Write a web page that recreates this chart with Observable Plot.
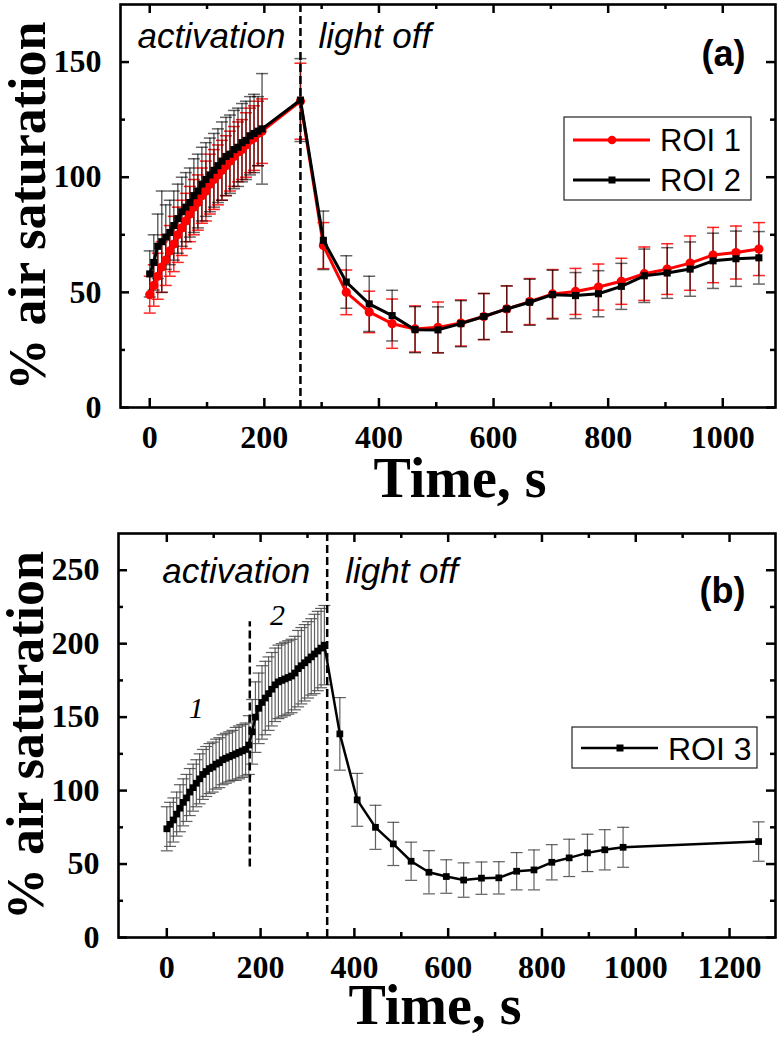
<!DOCTYPE html>
<html><head><meta charset="utf-8">
<script src="https://cdn.jsdelivr.net/npm/d3@7"></script>
<script src="https://cdn.jsdelivr.net/npm/@observablehq/plot@0.6"></script>
<style>
body{margin:0;background:#fff;}
#wrap{position:relative;width:780px;height:1039px;overflow:hidden;}
.panel{position:absolute;left:0;}
.leg{position:absolute;left:0;top:0;}
</style></head><body><div id="wrap"></div>
<script>
// ---------- Panel (a) data ----------
const timeA_act = [0,7,14,21,28,35,42,49,56,63,70,77,84,91,98,105,112,119,126,133,140,147,154,161,168,175,182,189,196];
const timeA_off = [263,303,343,383,423,463,503,543,583,623,663,703,743,783,823,863,903,943,983,1023,1063];
const roi1_act = [49,53,57,61,64,68,71,75,78,81,84,87,89,92,94,97,99,101,103,105,107,109,111,112,114,116,117,119,120];
const roi1_act_err = [8,9,10,11,11,11,12,12,12,12,12,12,12,12,13,13,13,13,13,13,13,13,13,13,14,14,14,14,14];
const roi1_off = [133,70.3,50,41.5,36.4,34.1,34.8,36.7,39.5,42.8,46,49.3,50.4,52.3,54.8,58.1,60.1,62.7,66.2,67.3,68.8];
const roi1_off_err = [16.5,10,9.7,9,10.7,10,11,10,10,10,10,10.6,10,10,10,11.6,11,11.8,12,11.5,11.5];
const roi2_act = [58,63,70,72,74,76,79,82,85,87,89,92,94,97,99,101,103,105,107,109,110,112,113,115,116,118,119,120,121];
const roi2_act_err = [10,12,14,22,14,14,15,15,15,15,15,16,16,16,16,16,16,16,17,17,17,17,17,17,17,17,17,15,24];
const roi2_off = [133.5,72.6,54.5,45,39.9,33.8,33.7,36.4,39.5,42.8,45.7,49,48.6,49.4,52.6,57.2,58.4,60.1,63.7,64.6,65];
const roi2_off_err = [18,12.7,11.4,12,11,10,10,10,10,10,10,10.6,10,10,10,11.6,11,11.8,12,12,11.4];
const lightOffA = 263;

// ---------- Panel (b) data ----------
const timeB_act = [0,7,14,21,28,35,42,49,56,63,70,77,84,91,98,105,112,119,126,133,140,147,154,161,168,175,182,189,196,203,210,217,224,231,238,245,252,259,266,273,280,287,294,301,308,315,322,329,336];
const roi3_act = [74,77,80,84,88,92,95,99,102,105,108,111,113,115,116,118,119,121,122,123,124,125,126,127,128,131,140,150,156,160,163,166,169,172,174,175,176,177,178,180,183,185,187,189,191,193,195,197,199];
const roi3_act_err = [15,15,15,15,16,16,16,16,16,16,17,17,17,17,17,17,17,17,17,17,17,18,18,18,18,20,22,24,24,25,25,25,25,25,25,25,25,25,25,25,26,26,26,26,26,27,27,27,27];
const timeB_off = [369,406,445,483,521,559,596,633,671,708,746,783,821,858,897,934,973,1262];
const roi3_off = [138.6,93.7,75,63.7,51.9,44.4,41.5,39.1,40.4,40.6,45.1,46,51.2,54.2,57.6,59.7,61.4,65.3];
const roi3_off_err = [24.7,18,15,14.7,13,14.7,11.4,11.7,11,11,12.7,13.6,12,12.7,12.7,13.7,13.6,13.4];
const lightOffB = 342;
const phaseSplitB = 177;
const phaseSplitB_range = [48, 215];

// ---------- ticks ----------
const xMajorA = [0,200,400,600,800,1000], xMinorA = [100,300,500,700,900];
const yMajorA = [0,50,100,150], yMinorA = [25,75,125];
const xMajorB = [0,200,400,600,800,1000,1200], xMinorB = [100,300,500,700,900,1100];
const yMajorB = [0,50,100,150,200,250], yMinorB = [25,75,125,175,225];

const rows = (ts, vs, es) => ts.map((t,i)=>({t, v: vs[i], e: es[i]}));
const roi1 = rows(timeA_act.concat(timeA_off), roi1_act.concat(roi1_off), roi1_act_err.concat(roi1_off_err));
const roi2 = rows(timeA_act.concat(timeA_off), roi2_act.concat(roi2_off), roi2_act_err.concat(roi2_off_err));
const roi3 = rows(timeB_act.concat(timeB_off), roi3_act.concat(roi3_off), roi3_act_err.concat(roi3_off_err));

const cap = {draw(ctx){ ctx.moveTo(-6,0); ctx.lineTo(6,0); }};
const SERIF = "'Liberation Serif','Times New Roman',serif";
const SANS = "'Liberation Sans',Arial,sans-serif";
const fmt = d => String(d);

function frameMarks(pw, ph, xM, xm, yM, ym) {
  const L = 9, l = 5, sw = 2.5;
  return [
    Plot.tickX(xM, {x: d=>d, insetTop: ph-L, strokeWidth: sw}),
    Plot.tickX(xM, {x: d=>d, insetBottom: ph-L, strokeWidth: sw}),
    Plot.tickX(xm, {x: d=>d, insetTop: ph-l, strokeWidth: sw}),
    Plot.tickX(xm, {x: d=>d, insetBottom: ph-l, strokeWidth: sw}),
    Plot.tickY(yM, {y: d=>d, insetRight: pw-L, strokeWidth: sw}),
    Plot.tickY(yM, {y: d=>d, insetLeft: pw-L, strokeWidth: sw}),
    Plot.tickY(ym, {y: d=>d, insetRight: pw-l, strokeWidth: sw}),
    Plot.tickY(ym, {y: d=>d, insetLeft: pw-l, strokeWidth: sw}),
    Plot.frame({strokeWidth: 2.6, stroke: "black"})
  ];
}
function errMarks(data, color, op, sw) {
  return [
    Plot.ruleX(data, {x: "t", y1: d=>d.v-d.e, y2: d=>d.v+d.e, stroke: color, strokeOpacity: op, strokeWidth: sw}),
    Plot.dot(data, {x: "t", y: d=>d.v+d.e, symbol: cap, fill: "none", stroke: color, strokeOpacity: op, strokeWidth: sw}),
    Plot.dot(data, {x: "t", y: d=>d.v-d.e, symbol: cap, fill: "none", stroke: color, strokeOpacity: op, strokeWidth: sw})
  ];
}
function axesMarks(xM, yM, ytitle, xtitle, xdx, xdy) {
  return [
    Plot.axisX(xM, {tickSize: 0, tickPadding: 18, fontSize: 32, fontFamily: SERIF, fontWeight: "bold", label: null, tickFormat: fmt}),
    Plot.axisY(yM, {tickSize: 0, tickPadding: 19, fontSize: 32, fontFamily: SERIF, fontWeight: "bold", label: null, tickFormat: fmt}),
    Plot.text([ytitle], {frameAnchor: "left", dx: -92, rotate: -90, textAnchor: "middle", lineAnchor: "middle", fontSize: 52, fontFamily: SERIF, fontWeight: "bold"}),
    Plot.text([xtitle], {frameAnchor: "bottom", dy: xdy, dx: xdx, textAnchor: "middle", lineAnchor: "middle", fontSize: 56, fontFamily: SERIF, fontWeight: "bold"})
  ];
}
function phaseLabels(t, dy, dxL, dxR) {
  return [
    Plot.text(["activation"], {x: [t], frameAnchor: "top", dy, dx: dxL, textAnchor: "end", lineAnchor: "middle", fontSize: 35, fontStyle: "italic", fontFamily: SANS}),
    Plot.text(["light off"], {x: [t], frameAnchor: "top", dy, dx: dxR, textAnchor: "start", lineAnchor: "middle", fontSize: 35, fontStyle: "italic", fontFamily: SANS})
  ];
}

const wrap = document.getElementById("wrap");

// ---------- Panel (a) ----------
{
  const H = 505, mt = 4, mb = 98, ml = 120, mr = 5;
  const pw = 780-ml-mr, ph = H-mt-mb;
  const p = Plot.plot({
    width: 780, height: H, marginTop: mt, marginBottom: mb, marginLeft: ml, marginRight: mr,
    style: {fontFamily: SANS, background: "transparent", overflow: "visible"},
    x: {domain: [-51, 1092], axis: null},
    y: {domain: [0, 175], axis: null},
    marks: [
      ...errMarks(roi1, "#ff0000", 0.85, 1.5),
      ...errMarks(roi2, "#000000", 0.6, 1.5),
      Plot.ruleX([lightOffA], {strokeDasharray: "8,4", strokeWidth: 2.5}),
      Plot.line(roi1, {x: "t", y: "v", stroke: "#ff0000", strokeWidth: 3}),
      Plot.dot(roi1, {x: "t", y: "v", r: 4.6, fill: "#ff0000"}),
      Plot.line(roi2, {x: "t", y: "v", stroke: "black", strokeWidth: 3}),
      Plot.dot(roi2, {x: "t", y: "v", symbol: "square", r: 4, fill: "black"}),
      ...phaseLabels(lightOffA, 32, -15, 18),
      Plot.text(["(a)"], {frameAnchor: "top-right", dx: -52, dy: 50, textAnchor: "middle", lineAnchor: "middle", fontSize: 36, fontWeight: "bold", fontFamily: SANS}),
      ...frameMarks(pw, ph, xMajorA, xMinorA, yMajorA, yMinorA),
      ...axesMarks(xMajorA, yMajorA, "% air saturation", "Time, s", 12, 72)
    ]
  });
  p.classList.add("panel"); p.style.top = "0px";
  wrap.appendChild(p);
}

// ---------- Panel (b) ----------
{
  const top = 505;
  const H = 534, mt = 28, mb = 102, ml = 118, mr = 5;
  const pw = 780-ml-mr, ph = H-mt-mb;
  const p = Plot.plot({
    width: 780, height: H, marginTop: mt, marginBottom: mb, marginLeft: ml, marginRight: mr,
    style: {fontFamily: SANS, background: "transparent", overflow: "visible"},
    x: {domain: [-103, 1298], axis: null},
    y: {domain: [0, 275], axis: null},
    marks: [
      ...errMarks(roi3, "#444444", 0.85, 1.2),
      Plot.ruleX([lightOffB], {strokeDasharray: "8,4", strokeWidth: 2.5}),
      Plot.ruleX([phaseSplitB], {y1: phaseSplitB_range[0], y2: phaseSplitB_range[1], strokeDasharray: "8,4", strokeWidth: 2.5}),
      Plot.line(roi3, {x: "t", y: "v", stroke: "black", strokeWidth: 2.5}),
      Plot.dot(roi3, {x: "t", y: "v", symbol: "square", r: 3.8, fill: "black"}),
      ...phaseLabels(lightOffB, 38, -17, 18),
      Plot.text(["1"], {x: [63], y: [156], fontSize: 30, fontStyle: "italic", fontFamily: SERIF}),
      Plot.text(["2"], {x: [236], y: [219], fontSize: 30, fontStyle: "italic", fontFamily: SERIF}),
      Plot.text(["(b)"], {frameAnchor: "top-right", dx: -53, dy: 58, textAnchor: "middle", lineAnchor: "middle", fontSize: 36, fontWeight: "bold", fontFamily: SANS}),
      ...frameMarks(pw, ph, xMajorB, xMinorB, yMajorB, yMinorB),
      ...axesMarks(xMajorB, yMajorB, "% air saturation", "Time, s", -12, 69)
    ]
  });
  p.classList.add("panel"); p.style.top = top + "px";
  wrap.appendChild(p);
}

// ---------- Legends (overlay) ----------
const legendA = [{label: "ROI 1", color: "#ff0000", shape: "circle"}, {label: "ROI 2", color: "black", shape: "square"}];
const legendB = [{label: "ROI 3", color: "black", shape: "square"}];
function legendSvg(x, y, w, h, items, rowY, lineW, fs, markR) {
  let s = `<rect x="${x}" y="${y}" width="${w}" height="${h}" fill="white" stroke="#222" stroke-width="1.2"/>`;
  items.forEach((it, i) => {
    const cy = y + rowY[i];
    s += `<line x1="${x+9}" x2="${x+86}" y1="${cy}" y2="${cy}" stroke="${it.color}" stroke-width="${lineW}"/>`;
    if (it.shape === "circle") s += `<circle cx="${x+48}" cy="${cy}" r="${markR+0.8}" fill="${it.color}"/>`;
    else s += `<rect x="${x+48-markR}" y="${cy-markR}" width="${2*markR}" height="${2*markR}" fill="${it.color}"/>`;
    s += `<text x="${x+96}" y="${cy}" dy="0.36em" font-size="${fs}" font-family="Liberation Sans, Arial, sans-serif">${it.label}</text>`;
  });
  return s;
}
const leg = document.createElementNS("http://www.w3.org/2000/svg", "svg");
leg.setAttribute("width", 780); leg.setAttribute("height", 1039); leg.setAttribute("class", "leg");
leg.innerHTML = legendSvg(564, 117, 187, 83, legendA, [23, 63], 3, 31, 3.5) + legendSvg(572, 727, 185, 41, legendB, [21], 2.5, 32, 3.5);
wrap.appendChild(leg);
</script>
</body></html>
